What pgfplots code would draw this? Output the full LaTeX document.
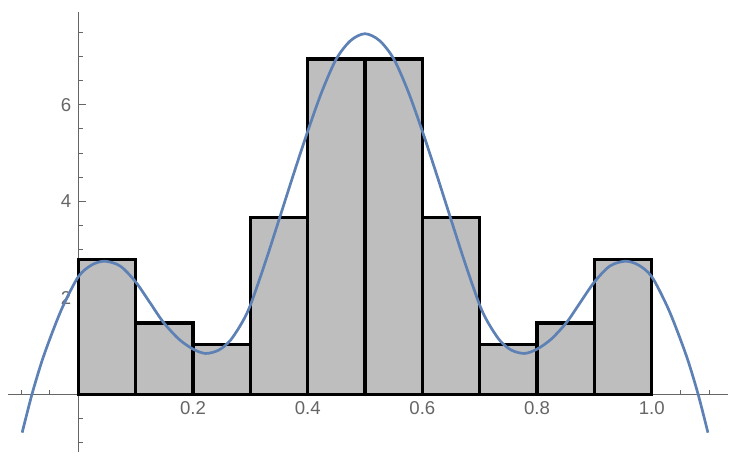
\documentclass[border=0pt]{standalone}
\usepackage{fontspec}
\setmainfont{Liberation Sans}
\usepackage{pgfplots}
\pgfplotsset{compat=1.18}

\definecolor{mmablue}{HTML}{5E81B5}
\definecolor{barfill}{HTML}{BEBEBE}
\definecolor{axgray}{HTML}{666666}

\begin{document}
\begin{tikzpicture}
\begin{axis}[
    scale only axis,
    width=360pt, height=220pt,
    xmin=-0.1227, xmax=1.133,
    ymin=-1.19, ymax=7.92,
    axis lines=middle,
    axis line style={-, draw=axgray, line width=0.5pt},
    tick style={draw=axgray, line width=0.5pt},
    tick align=inside,
    major tick length=4pt, minor tick length=2.5pt,
    xtick={0.2,0.4,0.6,0.8,1.0},
    minor xtick={-0.1,-0.05,0.05,0.1,0.15,0.25,0.3,0.35,0.45,0.5,0.55,0.65,0.7,0.75,0.85,0.9,0.95,1.05,1.1},
    ytick={2,4,6},
    minor ytick={-1,-0.5,0.5,1,1.5,2.5,3,3.5,4.5,5,5.5,6.5,7,7.5},
    xticklabel style={/pgf/number format/.cd, fixed, fixed zerofill, precision=1, assume math mode=true},
    yticklabel style={/pgf/number format/assume math mode=true},
    tick label style={font=\fontsize{9.3}{10}\selectfont, text=axgray},
]
  % histogram bars (density), intervals of width 0.1
  \addplot[ybar interval, fill=barfill, draw=black, line width=1.7pt]
    coordinates {(0,2.8)(0.1,1.48)(0.2,1.03)(0.3,3.66)(0.4,6.95)
                 (0.5,6.95)(0.6,3.66)(0.7,1.03)(0.8,1.48)(0.9,2.8)(1.0,2.8)};
  % smooth density curve
  \addplot[smooth, mmablue, line width=1.35pt]
    coordinates {(-0.098,-0.79)(-0.081,0)(-0.063,0.71)(-0.044,1.33)(-0.026,1.85)
                 (0,2.44)(0.023,2.68)(0.046,2.76)(0.073,2.66)(0.1,2.33)
                 (0.125,1.90)(0.148,1.50)(0.175,1.15)(0.2,0.94)(0.222,0.85)
                 (0.245,0.92)(0.265,1.12)(0.285,1.48)(0.3,1.85)(0.325,2.70)
                 (0.35,3.62)(0.375,4.55)(0.4,5.45)(0.425,6.28)(0.45,6.95)
                 (0.475,7.33)(0.5,7.47)
                 (0.525,7.33)(0.55,6.95)(0.575,6.28)(0.6,5.45)(0.625,4.55)
                 (0.65,3.62)(0.675,2.70)(0.7,1.85)(0.715,1.48)(0.735,1.12)
                 (0.755,0.92)(0.778,0.85)(0.8,0.94)(0.825,1.15)(0.852,1.50)
                 (0.875,1.90)(0.9,2.33)(0.927,2.66)(0.954,2.76)(0.977,2.68)
                 (1.0,2.44)(1.026,1.85)(1.044,1.33)(1.063,0.71)(1.081,0)(1.098,-0.79)};
\end{axis}
% margins round the axis, as in the reference
\path (current axis.south west) ++(-4pt,-4pt);
\path (current axis.north east) ++(5pt,6pt);
\end{tikzpicture}
\end{document}
